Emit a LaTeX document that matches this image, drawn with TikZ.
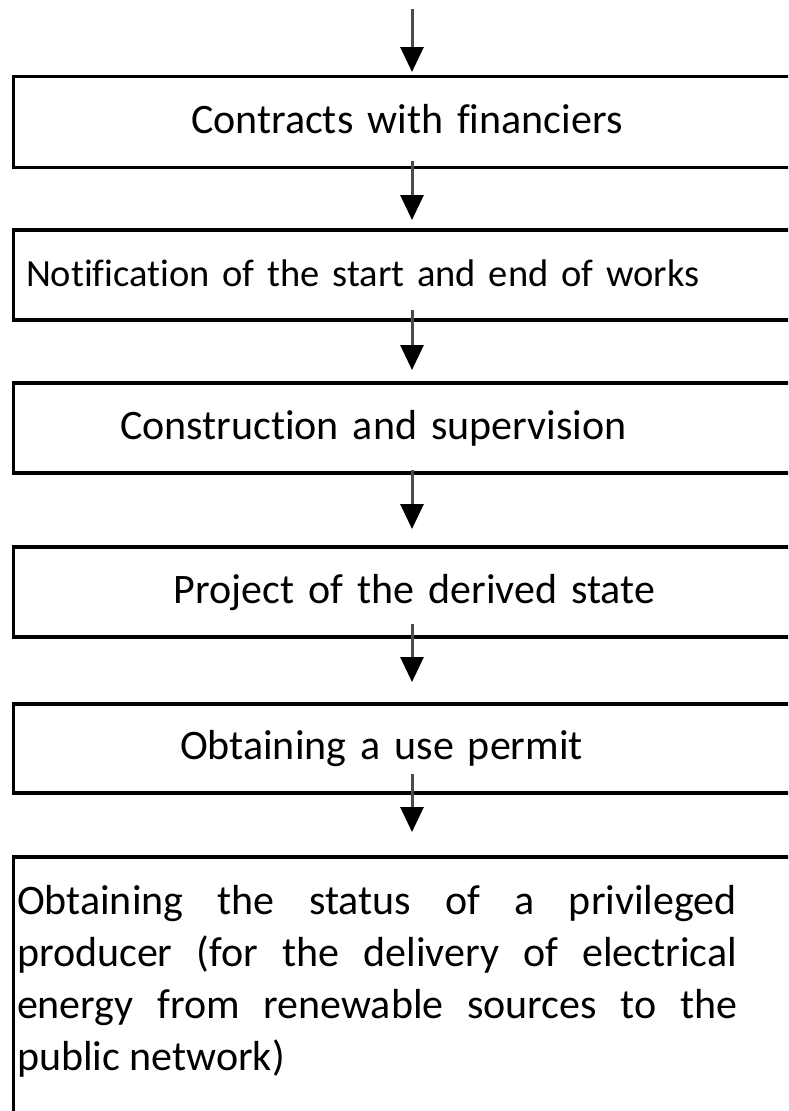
\documentclass[tikz,border=0pt]{standalone}
\usepackage{fontspec}
\setmainfont[Ligatures=CommonOff]{Carlito}
\usetikzlibrary{arrows.meta}

\tikzset{
    stage/.style={draw, line width=3.3pt, outer sep=0pt, inner xsep=0pt,
        minimum width=797pt, text width=790pt, align=left,
        font=\fontsize{42pt}{52pt}\selectfont},
    stageline/.style={stage, text height=30pt, text depth=8pt},
    flow/.style={line width=3pt, draw=black!70,
        -{Triangle[width=23pt,length=25pt,color=black]}}
}

\begin{document}
\begin{tikzpicture}[x=1pt,y=1pt]

\useasboundingbox (0,0) rectangle (788,-1111);
\clip (0,0) rectangle (788,-1111);

% --- stages ---
\node[stageline, minimum height=91pt] (s1) at (412,-122) {\hspace*{174pt}Contracts with financiers};
\node[stageline, minimum height=90pt, font=\fontsize{38.5pt}{52pt}\selectfont] (s2) at (412,-275)
    {\hspace*{9pt}Notification of the start and end of works};
\node[stageline, minimum height=90pt] (s3) at (412,-428) {\hspace*{103pt}Construction and supervision};
\node[stageline, minimum height=90pt] (s4) at (412,-592) {\hspace*{157pt}Project of the derived state};
\node[stageline, minimum height=89pt] (s5) at (412,-748.5) {\hspace*{163pt}Obtaining a use permit};
\node[stage, anchor=north, inner ysep=28pt] (s6) at (412,-857)
    {\parbox[t][250pt][t]{720pt}{\rightskip=0pt \leftskip=0pt
    \spaceskip=0pt \xspaceskip=0pt
    \parfillskip=0pt plus 1fil \hyphenpenalty=10000
    Obtaining the status of a privileged\linebreak
    producer (for the delivery of electrical\linebreak
    energy from renewable sources to the\linebreak
    public network)}};

% --- arrows ---
\coordinate (start) at (412,-9);
\draw[flow] (start) -- ([yshift=4.5pt]s1.north);
\foreach \a/\b/\u/\v in {s1/s2/7/10, s2/s3/10/13, s3/s4/3/18, s4/s5/13/22, s5/s6/19/25} {
    \draw[flow] ([yshift=\u pt]\a.south) -- ([yshift=\v pt]\b.north);
}

\end{tikzpicture}
\end{document}
